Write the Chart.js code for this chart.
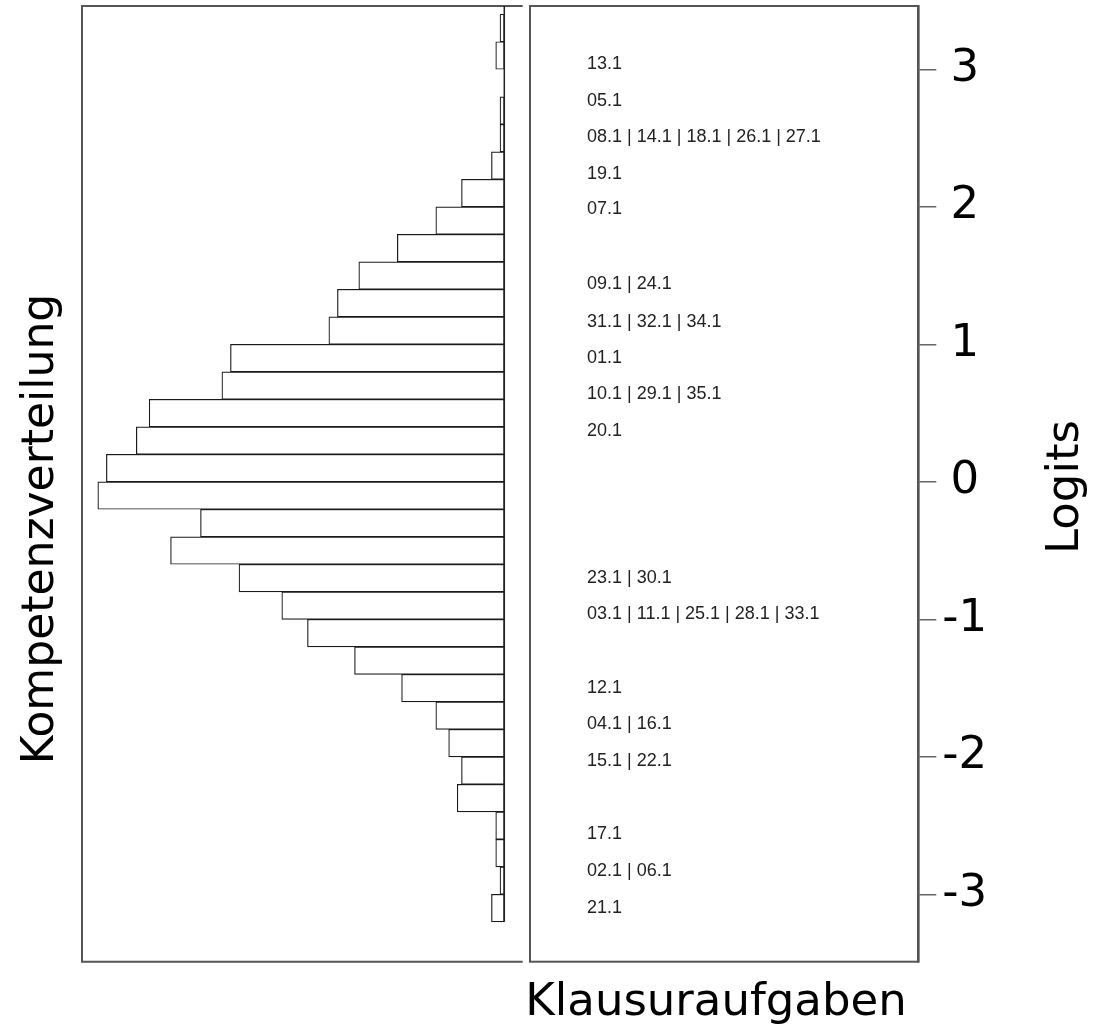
<!DOCTYPE html>
<html>
<head>
<meta charset="utf-8">
<title>Wright Map</title>
<script src="https://cdn.jsdelivr.net/npm/chart.js@4.4.1/dist/chart.umd.min.js"></script>
<style>
  html, body { margin: 0; padding: 0; background: #fff; }
  #wrap { position: relative; width: 1093px; height: 1027px; overflow: hidden; background: #fff; }
  #persons { position: absolute; left: 0; top: 0; }
  #items { position: absolute; left: 520px; top: 0; }
</style>
</head>
<body>
<div id="wrap">
  <canvas id="persons" width="530" height="1027"></canvas>
  <canvas id="items" width="573" height="1027"></canvas>
</div>
<script>
// person abilities: histogram with bins of 0.2 logits (bin middle -> count)
const binMids = [3.3, 3.1, 2.9, 2.7, 2.5, 2.3, 2.1, 1.9, 1.7, 1.5, 1.3, 1.1, 0.9, 0.7, 0.5, 0.3, 0.1,
  -0.1, -0.3, -0.5, -0.7, -0.9, -1.1, -1.3, -1.5, -1.7, -1.9, -2.1, -2.3, -2.5, -2.7, -2.9, -3.1];
const personCounts = [1, 2, 0, 1, 1, 3, 10, 16, 25, 34, 39, 41, 64, 66, 83, 86, 93,
  95, 71, 78, 62, 52, 46, 35, 24, 16, 13, 10, 11, 2, 2, 1, 3];

// item difficulties (grouped items share one position)
const itemGroups = ['13.1', '05.1', '08.1 | 14.1 | 18.1 | 26.1 | 27.1', '19.1', '07.1',
  '09.1 | 24.1', '31.1 | 32.1 | 34.1', '01.1', '10.1 | 29.1 | 35.1', '20.1',
  '23.1 | 30.1', '03.1 | 11.1 | 25.1 | 28.1 | 33.1', '12.1', '04.1 | 16.1', '15.1 | 22.1',
  '17.1', '02.1 | 06.1', '21.1'];
const itemLogits = [3.04, 2.77, 2.51, 2.24, 1.98, 1.44, 1.16, 0.9, 0.64, 0.37,
  -0.7, -0.96, -1.5, -1.76, -2.03, -2.56, -2.83, -3.1];

const logitMin = -3.49;
const logitMax = 3.46;
const titleFont = '"DejaVu Sans", Verdana, sans-serif';

// frame, base line and left title for the person panel
const personFrame = {
  id: 'personFrame',
  afterDatasetsDraw(chart) {
    const { ctx, chartArea: a, scales } = chart;
    ctx.save();
    ctx.strokeStyle = '#555';
    ctx.lineWidth = 2;
    ctx.beginPath();
    ctx.moveTo(a.right, a.top);
    ctx.lineTo(a.left, a.top);
    ctx.lineTo(a.left, a.bottom);
    ctx.lineTo(a.right, a.bottom);
    ctx.stroke();

    const x0 = scales.x.getPixelForValue(0);
    const yEnd = scales.y.getPixelForValue(binMids[binMids.length - 1] - 0.1);
    ctx.strokeStyle = '#222';
    ctx.lineWidth = 1.5;
    ctx.beginPath();
    ctx.moveTo(x0, a.top);
    ctx.lineTo(x0, yEnd);
    ctx.stroke();

    ctx.fillStyle = '#000';
    ctx.font = '44px ' + titleFont;
    ctx.translate(53, 529);
    ctx.rotate(-Math.PI / 2);
    ctx.textAlign = 'center';
    ctx.textBaseline = 'alphabetic';
    ctx.fillText('Kompetenzverteilung', 0, 0);
    ctx.restore();
  }
};

// frame, item labels and titles for the item panel
const itemPanel = {
  id: 'itemPanel',
  afterDatasetsDraw(chart) {
    const { ctx, chartArea: a } = chart;
    ctx.save();
    ctx.strokeStyle = '#555';
    ctx.lineWidth = 2;
    ctx.strokeRect(a.left, a.top, a.right - a.left, a.bottom - a.top);

    const meta = chart.getDatasetMeta(0);
    ctx.fillStyle = '#222';
    ctx.font = '18px "Liberation Sans", Arial, sans-serif';
    ctx.textAlign = 'left';
    ctx.textBaseline = 'middle';
    meta.data.forEach((pt, i) => {
      ctx.fillText(itemGroups[i], a.left + 57, pt.y);
    });

    ctx.fillStyle = '#000';
    ctx.font = '45px ' + titleFont;
    ctx.textAlign = 'center';
    ctx.textBaseline = 'alphabetic';
    ctx.fillText('Klausuraufgaben', 196, 1015);

    ctx.translate(558, 487);
    ctx.rotate(-Math.PI / 2);
    ctx.fillText('Logits', 0, 0);
    ctx.restore();
  }
};

new Chart(document.getElementById('persons'), {
  type: 'bar',
  data: {
    datasets: [{
      data: binMids.map((m, i) => ({ x: personCounts[i], y: m })),
      backgroundColor: '#fff',
      borderColor: '#1a1a1a',
      borderWidth: 1.2,
      borderSkipped: false,
      barPercentage: 1,
      categoryPercentage: 1
    }]
  },
  options: {
    indexAxis: 'y',
    responsive: false,
    animation: false,
    layout: { padding: { left: 82, right: 7.3, top: 6, bottom: 65.3 } },
    plugins: { legend: { display: false }, tooltip: { enabled: false } },
    scales: {
      x: { type: 'linear', display: false, reverse: true, min: -4.3, max: 98.7 },
      y: { type: 'linear', display: false, offset: false, min: logitMin, max: logitMax,
           grid: { offset: false },
           ticks: { stepSize: 1, includeBounds: false } }
    }
  },
  plugins: [personFrame]
});

new Chart(document.getElementById('items'), {
  type: 'scatter',
  data: {
    datasets: [{
      data: itemLogits.map(v => ({ x: 0, y: v })),
      pointRadius: 0
    }]
  },
  options: {
    responsive: false,
    animation: false,
    layout: { padding: { left: 10, right: 0, top: 6, bottom: 65.3 } },
    plugins: { legend: { display: false }, tooltip: { enabled: false } },
    scales: {
      x: { display: false, min: 0, max: 1 },
      y: {
        position: 'right',
        min: logitMin,
        max: logitMax,
        afterFit(s) { s.width = 174.7; s.paddingTop = 0; s.paddingBottom = 0; },
        ticks: {
          stepSize: 1,
          includeBounds: false,
          padding: 6,
          crossAlign: 'center',
          color: '#000',
          font: { family: titleFont, size: 45 }
        },
        grid: { drawOnChartArea: false, drawTicks: true, tickLength: 18, color: '#666', lineWidth: 1.5 },
        border: { display: true, color: '#555', width: 2.5 }
      }
    }
  },
  plugins: [itemPanel]
});
</script>
</body>
</html>
